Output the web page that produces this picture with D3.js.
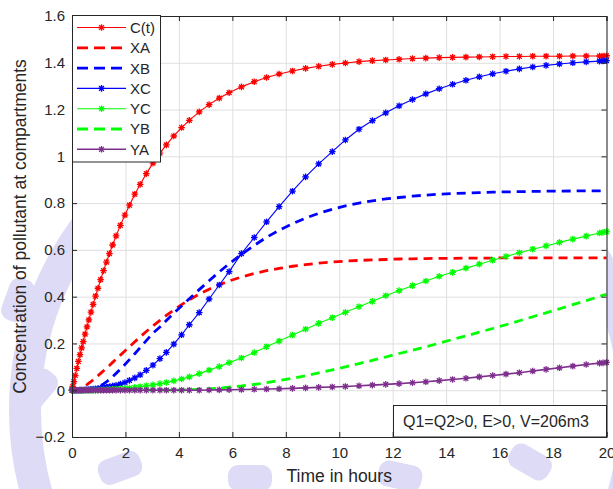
<!DOCTYPE html>
<html>
<head>
<meta charset="utf-8">
<script src="https://cdnjs.cloudflare.com/ajax/libs/d3/7.8.5/d3.min.js"></script>
<style>
  body { margin: 0; background: #fff; }
  svg { display: block; }
  text { font-family: Arial, "Liberation Sans", Helvetica, sans-serif; fill: #262626; }
</style>
</head>
<body>
<svg id="chart" width="613" height="489"></svg>
<script>
// solver output times (hours)
const time = [0, 0.03, 0.07, 0.12, 0.18, 0.24, 0.30, 0.36, 0.42, 0.49,
  0.56, 0.63, 0.71, 0.79, 0.88, 0.97, 1.07, 1.18, 1.29, 1.40,
  1.52, 1.65, 1.81, 1.98, 2.15, 2.35, 2.55, 2.78, 3.03, 3.29,
  3.53, 3.81, 4.10, 4.39, 4.76, 5.13, 5.51, 5.88, 6.34, 6.82,
  7.28, 7.75, 8.25, 8.74, 9.23, 9.74, 10.23, 10.74, 11.24, 11.74,
  12.24, 12.74, 13.24, 13.74, 14.24, 14.74, 15.24, 15.74, 16.24, 16.74,
  17.24, 17.74, 18.24, 18.74, 19.24, 19.74, 19.87, 20];

const cT = [0, 0.016, 0.037, 0.063, 0.093, 0.123, 0.152, 0.181, 0.208, 0.240,
  0.271, 0.301, 0.334, 0.367, 0.402, 0.436, 0.473, 0.511, 0.548, 0.584,
  0.621, 0.660, 0.705, 0.749, 0.791, 0.838, 0.880, 0.926, 0.971, 1.014,
  1.049, 1.087, 1.123, 1.154, 1.190, 1.221, 1.249, 1.272, 1.297, 1.319,
  1.337, 1.352, 1.365, 1.376, 1.385, 1.393, 1.399, 1.405, 1.409, 1.412,
  1.415, 1.418, 1.420, 1.422, 1.423, 1.424, 1.425, 1.426, 1.427, 1.427,
  1.428, 1.428, 1.428, 1.429, 1.429, 1.429, 1.429, 1.430];

const xA = [0, 0.0001, 0.0005, 0.0015, 0.003, 0.005, 0.008, 0.011, 0.014, 0.019,
  0.024, 0.030, 0.037, 0.044, 0.053, 0.062, 0.072, 0.083, 0.095, 0.106,
  0.119, 0.133, 0.150, 0.168, 0.186, 0.207, 0.228, 0.251, 0.275, 0.299,
  0.320, 0.343, 0.366, 0.387, 0.411, 0.432, 0.451, 0.467, 0.484, 0.499,
  0.511, 0.521, 0.530, 0.537, 0.543, 0.548, 0.552, 0.555, 0.557, 0.559,
  0.561, 0.562, 0.563, 0.564, 0.564, 0.565, 0.565, 0.565, 0.566, 0.566,
  0.566, 0.566, 0.566, 0.566, 0.566, 0.566, 0.566, 0.566];

const xB = [0, 0, 0, 0, 0.0001, 0.0002, 0.0004, 0.0007, 0.001, 0.0016,
  0.0024, 0.0035, 0.005, 0.007, 0.010, 0.014, 0.020, 0.027, 0.036, 0.046,
  0.058, 0.072, 0.090, 0.110, 0.131, 0.156, 0.182, 0.212, 0.244, 0.270,
  0.298, 0.330, 0.360, 0.391, 0.430, 0.468, 0.506, 0.541, 0.581, 0.619,
  0.654, 0.684, 0.712, 0.736, 0.756, 0.774, 0.788, 0.800, 0.810, 0.818,
  0.824, 0.830, 0.834, 0.838, 0.841, 0.843, 0.845, 0.847, 0.848, 0.849,
  0.850, 0.851, 0.851, 0.852, 0.852, 0.852, 0.852, 0.853];

const xC = [0, 0, 0, 0, 0, 0, 0.0005, 0.001, 0.001, 0.002,
  0.002, 0.003, 0.004, 0.005, 0.006, 0.007, 0.009, 0.011, 0.013, 0.015,
  0.018, 0.021, 0.026, 0.033, 0.042, 0.053, 0.066, 0.085, 0.107, 0.135,
  0.162, 0.197, 0.237, 0.280, 0.332, 0.390, 0.450, 0.507, 0.584, 0.653,
  0.720, 0.785, 0.851, 0.912, 0.968, 1.020, 1.070, 1.116, 1.153, 1.186,
  1.216, 1.243, 1.267, 1.289, 1.308, 1.325, 1.340, 1.353, 1.364, 1.374,
  1.382, 1.389, 1.395, 1.400, 1.404, 1.407, 1.408, 1.409];

const yC = [0, 0, 0, 0, 0, 0, 0, 0, 0, 0,
  0, 0, 0.0002, 0.0003, 0.0005, 0.0007, 0.001, 0.0015, 0.002, 0.0027,
  0.0035, 0.0045, 0.006, 0.0075, 0.0095, 0.012, 0.015, 0.019, 0.023, 0.028,
  0.033, 0.040, 0.048, 0.057, 0.071, 0.086, 0.101, 0.118, 0.138, 0.161,
  0.186, 0.210, 0.236, 0.261, 0.286, 0.310, 0.333, 0.357, 0.380, 0.404,
  0.426, 0.447, 0.467, 0.487, 0.504, 0.522, 0.539, 0.556, 0.572, 0.588,
  0.603, 0.617, 0.632, 0.646, 0.659, 0.672, 0.675, 0.678];

const yB = [0, 0, 0, 0, 0, 0, 0, 0, 0, 0,
  0, 0, 0, 0, 0, 0, 0, 0, 0, 0,
  0, 0, 0, 0, 0, 0, 0, 0, 0, 0.0001,
  0.0002, 0.0004, 0.001, 0.002, 0.004, 0.006, 0.009, 0.013, 0.018, 0.025,
  0.032, 0.041, 0.051, 0.062, 0.074, 0.087, 0.100, 0.114, 0.128, 0.142,
  0.157, 0.171, 0.186, 0.201, 0.217, 0.232, 0.248, 0.264, 0.280, 0.297,
  0.314, 0.331, 0.348, 0.366, 0.383, 0.401, 0.406, 0.410];

const yA = [0, 0, 0, 0, 0, 0, 0, 0, 0, 0,
  0, 0, 0, 0, 0, 0, 0, 0, 0, 0,
  0, 0, 0, 0, 0, 0, 0, 0, 0, 0,
  0, 0, 0, 0, 0, 0.001, 0.0015, 0.002, 0.003, 0.004,
  0.005, 0.006, 0.008, 0.010, 0.012, 0.014, 0.016, 0.019, 0.022, 0.025,
  0.028, 0.032, 0.036, 0.041, 0.046, 0.051, 0.057, 0.063, 0.069, 0.075,
  0.082, 0.089, 0.096, 0.103, 0.110, 0.116, 0.117, 0.119];

const xTicks = [0, 2, 4, 6, 8, 10, 12, 14, 16, 18, 20];
const yTicks = [-0.2, 0, 0.2, 0.4, 0.6, 0.8, 1, 1.2, 1.4, 1.6];

const series = [
  { name: 'C(t)', values: cT, color: '#ff0000', dash: null, width: 1.1, marker: true },
  { name: 'XA', values: xA, color: '#ff0000', dash: '9,6', width: 2.8, marker: false },
  { name: 'XB', values: xB, color: '#0000ff', dash: '9,6', width: 2.8, marker: false },
  { name: 'XC', values: xC, color: '#0000ff', dash: null, width: 1.1, marker: true },
  { name: 'YC', values: yC, color: '#00ff00', dash: null, width: 1.1, marker: true },
  { name: 'YB', values: yB, color: '#00ff00', dash: '9,6', width: 2.8, marker: false },
  { name: 'YA', values: yA, color: '#7e2f8e', dash: null, width: 1.6, marker: true }
];

const plotL = 72, plotR = 606.5, plotT = 16, plotB = 437;
const svg = d3.select('#chart');

// faint watermark behind the figure (lower part only)
const wm = svg.append('g').attr('fill', 'none').attr('stroke', '#dedbf6');
wm.append('circle').attr('cx', 330).attr('cy', 410).attr('r', 305).attr('stroke-width', 32);
[[18, 300, -70], [38, 390, -50], [120, 468, -20], [250, 478, 0], [400, 476, 12], [530, 462, 30]].forEach(d => {
  wm.append('rect').attr('x', -22).attr('y', -13).attr('width', 44).attr('height', 26).attr('rx', 10)
    .attr('fill', '#dedbf6').attr('stroke', 'none')
    .attr('transform', `translate(${d[0]},${d[1]}) rotate(${d[2]})`);
});

const x = d3.scaleLinear().domain([0, 20]).range([plotL, plotR]);
const y = d3.scaleLinear().domain([-0.2, 1.6]).range([plotB, plotT]);

svg.append('rect').attr('x', plotL).attr('y', plotT)
  .attr('width', plotR - plotL).attr('height', plotB - plotT).attr('fill', '#fff');

// grid
svg.append('g').attr('transform', `translate(0,${plotB})`)
  .call(d3.axisBottom(x).tickValues(xTicks).tickSize(-(plotB - plotT)).tickFormat(''))
  .call(g => g.select('.domain').remove())
  .call(g => g.selectAll('line').attr('stroke', '#dfdfdf'));
svg.append('g').attr('transform', `translate(${plotL},0)`)
  .call(d3.axisLeft(y).tickValues(yTicks).tickSize(-(plotR - plotL)).tickFormat(''))
  .call(g => g.select('.domain').remove())
  .call(g => g.selectAll('line').attr('stroke', '#dfdfdf'));

// lines and markers
const line = d3.line().x((d, i) => x(time[i])).y(d => y(d));
const star = 'M-3.3,0H3.3M0,-3.3V3.3M-2.4,-2.4L2.4,2.4M-2.4,2.4L2.4,-2.4';
const plot = svg.append('g');
series.forEach(s => {
  plot.append('path').datum(s.values)
    .attr('d', line).attr('fill', 'none')
    .attr('stroke', s.color).attr('stroke-width', s.width)
    .attr('stroke-dasharray', s.dash);
  if (s.marker) {
    plot.append('g').selectAll('path').data(s.values).join('path')
      .attr('transform', (d, i) => `translate(${x(time[i])},${y(d)})`)
      .attr('d', star).attr('fill', 'none')
      .attr('stroke', s.color).attr('stroke-width', 1.3);
  }
});

// axes with inward ticks on all sides
const axisCol = '#262626';
const xAxis = svg.append('g').attr('transform', `translate(0,${plotB})`)
  .call(d3.axisBottom(x).tickValues(xTicks).tickSize(-5).tickPadding(10).tickFormat(d3.format('d')));
const yAxis = svg.append('g').attr('transform', `translate(${plotL},0)`)
  .call(d3.axisLeft(y).tickValues(yTicks).tickSize(-5).tickPadding(7).tickFormat(d => d === 0 ? '0' : d3.format('~g')(d)));
const xTop = svg.append('g').attr('transform', `translate(0,${plotT})`)
  .call(d3.axisTop(x).tickValues(xTicks).tickSize(-5).tickFormat(''));
const yRight = svg.append('g').attr('transform', `translate(${plotR},0)`)
  .call(d3.axisRight(y).tickValues(yTicks).tickSize(-5).tickFormat(''));
[xAxis, yAxis, xTop, yRight].forEach(g => {
  g.select('.domain').attr('stroke', axisCol);
  g.selectAll('line').attr('stroke', axisCol);
  g.selectAll('text').attr('font-size', 15).attr('fill', axisCol)
    .attr('font-family', 'Arial, "Liberation Sans", sans-serif');
});

// axis labels
svg.append('text').attr('x', (plotL + plotR) / 2).attr('y', 482)
  .attr('text-anchor', 'middle').attr('font-size', 17.5).text('Time in hours');
svg.append('text').attr('transform', `translate(26,${(plotT + plotB) / 2}) rotate(-90)`)
  .attr('text-anchor', 'middle').attr('font-size', 17.5)
  .text('Concentration of pollutant at compartments');

// legend
const lg = svg.append('g');
lg.append('rect').attr('x', 72.5).attr('y', 15.5).attr('width', 88).attr('height', 146.5)
  .attr('fill', '#fff').attr('stroke', axisCol).attr('stroke-width', 1);
series.forEach((s, i) => {
  const ly = 27.5 + i * 20.3;
  lg.append('line').attr('x1', 77).attr('x2', 126).attr('y1', ly).attr('y2', ly)
    .attr('stroke', s.color).attr('stroke-width', s.width)
    .attr('stroke-dasharray', s.dash ? '11,6' : null);
  if (s.marker) {
    lg.append('path').attr('d', star).attr('transform', `translate(101.5,${ly})`)
      .attr('fill', 'none').attr('stroke', s.color).attr('stroke-width', 1.3);
  }
  lg.append('text').attr('x', 130).attr('y', ly).attr('dy', '0.36em')
    .attr('font-size', 15).text(s.name);
});

// annotation
svg.append('rect').attr('x', 393.5).attr('y', 405.5).attr('width', 213).attr('height', 31.5)
  .attr('fill', '#fff').attr('stroke', axisCol);
svg.append('text').attr('x', 403).attr('y', 421).attr('dy', '0.36em')
  .attr('font-size', 16).text('Q1=Q2>0, E>0, V=206m3');
</script>
</body>
</html>
